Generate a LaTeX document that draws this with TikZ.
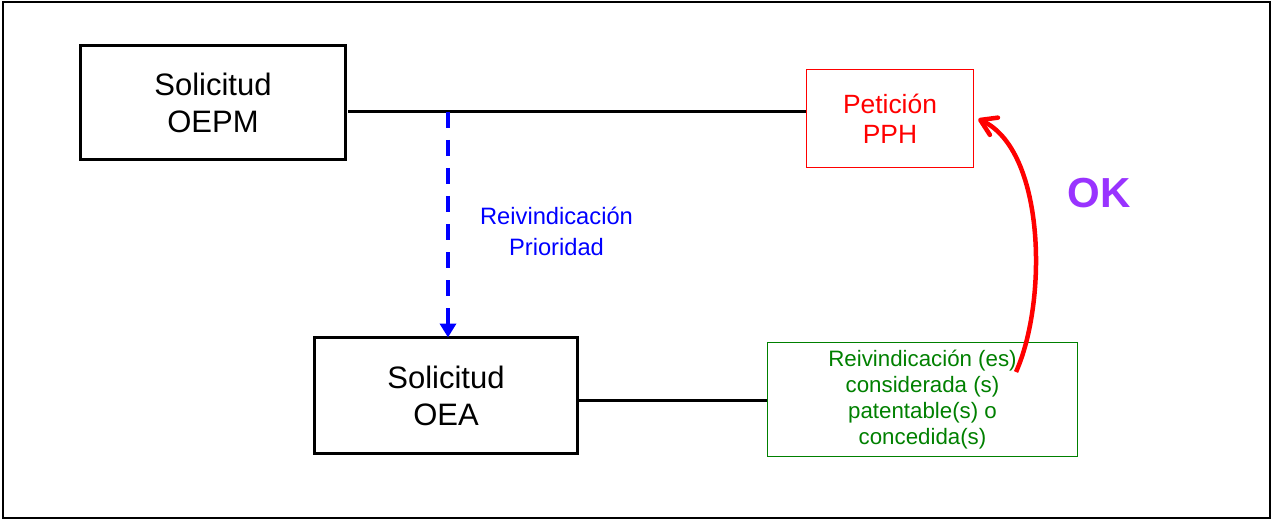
\documentclass[tikz,border=0pt]{standalone}
\usepackage{fontspec}
\setmainfont{Liberation Sans}
\usetikzlibrary{arrows.meta,calc}
\definecolor{okpurple}{HTML}{9933FF}
\definecolor{boxgreen}{HTML}{008000}
\begin{document}
\begin{tikzpicture}[x=1pt,y=-1pt,
  mainbox/.style={draw=black,line width=3.4pt,inner sep=0pt,align=center,
    font=\fontsize{31}{37}\selectfont},
  pphbox/.style={draw=red,line width=1.5pt,inner sep=0pt,align=center,text=red,
    font=\fontsize{26.4}{30}\selectfont},
  greenbox/.style={draw=boxgreen,line width=1.6pt,inner sep=0pt,align=center,text=boxgreen,
    font=\fontsize{22.3}{26}\selectfont},
  conn/.style={draw=black,line width=3pt},
  prio/.style={draw=blue,line width=4pt,dash pattern=on 16pt off 12pt,
    -{Triangle[length=14pt,width=16pt]}},
  okarrow/.style={draw=red,line width=4.5pt,
    -{Straight Barb[length=15pt,width=19pt,line cap=round,line join=round]}}]
\useasboundingbox (0,0) rectangle (1273,521);
\draw[line width=2pt] (3,2) rectangle (1270,518);
\node[mainbox,minimum width=265pt,minimum height=114pt] (oepm) at (213,102.5) {Solicitud\\OEPM};
\node[pphbox,minimum width=167pt,minimum height=98pt] (pph) at (890,118.5) {Petición\\PPH};
\node[mainbox,minimum width=262.6pt,minimum height=115.6pt] (oea) at (446,395.5) {Solicitud\\OEA};
\node[greenbox,minimum width=310pt,minimum height=114pt] (grn) at (922.5,399.5) {Reivindicación (es)\\considerada (s)\\patentable(s) o\\concedida(s)};
\node[text=blue,align=center,font=\fontsize{23.7}{31}\selectfont] (lbl) at (556.5,231) {Reivindicación\\Prioridad};
\node[text=okpurple,font=\fontsize{42}{48}\bfseries\selectfont] (ok) at (1099,193) {OK};
\coordinate (j) at (448,112);
\coordinate (b) at (670,400.5);
\coordinate (rs) at (1016,372);
\draw[conn] ([xshift=1pt]oepm.east |- j) -- (pph.west |- j);
\draw[conn] (oea.east |- b) -- (grn.west |- b);
\draw[prio] (j) -- ([yshift=-1.5pt]j |- oea.north);
\draw[okarrow] (rs) .. controls (1048,300) and (1045,150) .. ($(pph.east)+(4,0.5)$);
\end{tikzpicture}
\end{document}
